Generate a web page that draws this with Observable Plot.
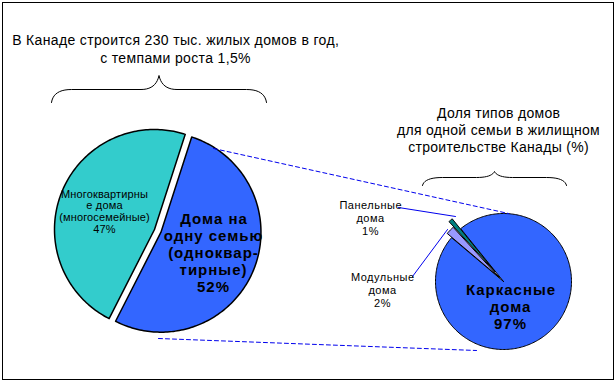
<!DOCTYPE html>
<html>
<head>
<meta charset="utf-8">
<script src="https://cdn.jsdelivr.net/npm/d3@7"></script>
<script src="https://cdn.jsdelivr.net/npm/@observablehq/plot@0.6"></script>
<style>
  html, body { margin: 0; padding: 0; background: #fff; }
  #chart svg { display: block; font-family: "Liberation Sans", Arial, sans-serif; }
</style>
</head>
<body>
<div id="chart"></div>
<script>
// ---- data ----
const bigCategories = ["Многоквартирные дома (многосемейные)", "Дома на одну семью (одноквартирные)"];
const bigValues = [47, 52];
const bigLabels = ["Многоквартирны\nе дома\n(многосемейные)\n47%", "Дома на\nодну семью\n(одноквар-\nтирные)\n52%"];

const smallCategories = ["Каркасные дома", "Модульные дома", "Панельные дома"];
const smallValues = [97, 2, 1];
const smallLabels = ["Каркасные\nдома\n97%", "Модульные\nдома\n2%", "Панельные\nдома\n1%"];

const titleLeft = "В Канаде строится 230 тыс. жилых домов в год,\nс темпами роста 1,5%";
const titleRight = "Доля типов домов\nдля одной семьи в жилищном\nстроительстве Канады (%)";

// ---- styles ----
const bigColors = ["#33CCCC", "#3366FF"];
const smallColors = ["#3366FF", "#9999FF", "#008080"];

// ---- layout ----
const W = 615, H = 381;
const big = {cx: 154, cy: 229, r: 100, start: -153, explode: [0, 7]};
const small = {cx: 503, cy: 281, r: 68, start: -39, explode: [0, 6, 13]};

function slices(values, p) {
  const a0 = p.start * Math.PI / 180;
  const arcs = d3.pie().sort(null).startAngle(a0).endAngle(a0 + 2 * Math.PI)(values);
  return arcs.map((a, i) => {
    const mid = (a.startAngle + a.endAngle) / 2;
    const ox = p.cx + p.explode[i] * Math.sin(mid);
    const oy = p.cy - p.explode[i] * Math.cos(mid);
    const n = Math.max(2, Math.ceil((a.endAngle - a.startAngle) / 0.02));
    const pts = [[ox, oy]];
    for (let k = 0; k <= n; k++) {
      const t = a.startAngle + (a.endAngle - a.startAngle) * k / n;
      pts.push([ox + p.r * Math.sin(t), oy - p.r * Math.cos(t)]);
    }
    pts.push([ox, oy]);
    return {pts, mid, ox, oy, a};
  });
}

function brace(x1, x2, yEnd, yMid, yApex) {
  const xm = (x1 + x2) / 2;
  const q = (p0, c, p1, n) => d3.range(n + 1).map(k => {
    const t = k / n;
    return [(1 - t) * (1 - t) * p0[0] + 2 * (1 - t) * t * c[0] + t * t * p1[0],
            (1 - t) * (1 - t) * p0[1] + 2 * (1 - t) * t * c[1] + t * t * p1[1]];
  });
  const e = 20, f = 18;
  return [
    ...q([x1, yEnd], [x1 + 2, yMid], [x1 + e, yMid], 10),
    ...q([xm - f, yMid], [xm - 3, yMid], [xm, yApex], 10),
    ...q([xm, yApex], [xm + 3, yMid], [xm + f, yMid], 10),
    ...q([x2 - e, yMid], [x2 - 2, yMid], [x2, yEnd], 10)
  ];
}

const bigS = slices(bigValues, big);
const smallS = slices(smallValues, small);

const marks = [];
bigS.forEach((s, i) => marks.push(Plot.line(s.pts, {x: d => d[0], y: d => d[1], fill: bigColors[i], stroke: "#000", strokeWidth: 1.5, strokeLinejoin: "round"})));
smallS.forEach((s, i) => marks.push(Plot.line(s.pts, {x: d => d[0], y: d => d[1], fill: smallColors[i], stroke: "#000", strokeWidth: 1, strokeLinejoin: "miter"})));

// connector dashed lines
const connectors = [
  [[213, 148], [508, 213]],
  [[158, 338], [476, 350]]
];
connectors.forEach(c => marks.push(Plot.line(c, {x: d => d[0], y: d => d[1], stroke: "#0000EE", strokeWidth: 1, strokeDasharray: "4,3"})));

// leader lines
const leaders = [
  [[398, 207], [455, 216]],
  [[412, 276], [447, 229]]
];
leaders.forEach(c => marks.push(Plot.line(c, {x: d => d[0], y: d => d[1], stroke: "#0000EE", strokeWidth: 1})));

// braces
marks.push(Plot.line(brace(51, 266, 102, 89, 75), {x: d => d[0], y: d => d[1], stroke: "#000", strokeWidth: 1, curve: "linear"}));
marks.push(Plot.line(brace(422, 566, 185, 177, 171), {x: d => d[0], y: d => d[1], stroke: "#000", strokeWidth: 1, curve: "linear"}));

// texts
const textSpacing = [];
const txt = (t, x, y, opts, ls) => { textSpacing.push(ls); return Plot.text([t], {x: () => x, y: () => y, text: d => d, textAnchor: "middle", lineAnchor: "middle", fill: "#000", ...opts}); };
marks.push(txt(titleLeft, 175, 48, {fontSize: 14, lineHeight: 1.28}, 0.35));
marks.push(txt(titleRight, 498, 129, {fontSize: 14, lineHeight: 1.21}, 0.3));
marks.push(txt(bigLabels[0], 104, 211, {fontSize: 11, lineHeight: 1.07}, 0.15));
marks.push(txt(bigLabels[1], 213, 252, {fontSize: 15, fontWeight: "bold", lineHeight: 1.13}, 1));
marks.push(txt(smallLabels[0], 510, 306, {fontSize: 15, fontWeight: "bold", lineHeight: 1.13}, 1));
marks.push(txt(smallLabels[1], 382, 289, {fontSize: 11, lineHeight: 1.18}, 0.5));
marks.push(txt(smallLabels[2], 370, 217, {fontSize: 11, lineHeight: 1.18}, 0.5));

marks.push(Plot.frame({stroke: "#000", strokeWidth: 1}));

const chart = Plot.plot({
  width: W, height: H,
  marginTop: 2, marginBottom: 2, marginLeft: 2, marginRight: 2,
  x: {domain: [2, W - 2], axis: null},
  y: {domain: [H - 2, 2], axis: null},
  style: {background: "#fff", fontFamily: "'Liberation Sans', Arial, sans-serif"},
  marks
});
document.getElementById("chart").appendChild(chart);
d3.select(chart).selectAll('g[aria-label="text"]').each(function (_, i) {
  const ls = textSpacing[i] || 0;
  d3.select(this).selectAll("text").attr("letter-spacing", ls)
    .attr("dx", ls / 2);
});
</script>
</body>
</html>
